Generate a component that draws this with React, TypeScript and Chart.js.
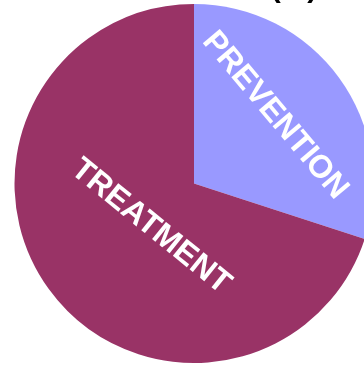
import React, { useEffect, useRef } from "react";
import { Chart, registerables } from "chart.js";

Chart.register(...registerables);

const categories = ["PREVENTION", "TREATMENT"];
const shares = [30, 70];
const sliceColors = ["#9999FF", "#993366"];
const titleText = "(%)";

const labelPlacement = [
  { angleOffset: -4, radiusFrac: 0.59, rotationDeg: 50 },
  { angleOffset: -9, radiusFrac: 0.34, rotationDeg: 39 },
];

const labelPlugin = {
  id: "sliceLabels",
  afterDatasetsDraw(chart: any) {
    const meta = chart.getDatasetMeta(0);
    const ctx = chart.ctx;
    ctx.save();
    ctx.fillStyle = "#FFFFFF";
    ctx.font = "bold 32px 'Liberation Sans', Arial, sans-serif";
    ctx.textAlign = "center";
    ctx.textBaseline = "middle";
    meta.data.forEach((arc: any, i: number) => {
      const p = labelPlacement[i];
      const mid = (arc.startAngle + arc.endAngle) / 2 + (p.angleOffset * Math.PI) / 180;
      const r = arc.outerRadius * p.radiusFrac;
      const x = arc.x + Math.cos(mid) * r;
      const y = arc.y + Math.sin(mid) * r;
      ctx.save();
      ctx.translate(x, y);
      ctx.rotate((p.rotationDeg * Math.PI) / 180);
      ctx.fillText(chart.data.labels[i], 0, 0);
      ctx.restore();
    });
    ctx.restore();
  },
};

const titlePlugin = {
  id: "cutTitle",
  afterDraw(chart: any) {
    const ctx = chart.ctx;
    ctx.save();
    ctx.fillStyle = "#000000";
    ctx.font = "bold 30px 'Liberation Sans', Arial, sans-serif";
    ctx.textAlign = "center";
    ctx.textBaseline = "alphabetic";
    ctx.fillText(titleText, 294, -3);
    ctx.restore();
  },
};

export default function App() {
  const ref = useRef<HTMLCanvasElement | null>(null);
  useEffect(() => {
    document.body.style.margin = "0";
    document.body.style.overflow = "hidden";
    const chart = new Chart(ref.current!, {
      type: "pie",
      data: {
        labels: categories,
        datasets: [
          {
            data: shares,
            backgroundColor: sliceColors,
            borderWidth: 0,
          },
        ],
      },
      options: {
        animation: false,
        responsive: false,
        maintainAspectRatio: false,
        layout: { padding: { left: 14, right: 14, top: 4, bottom: 2 } },
        plugins: {
          legend: { display: false },
          tooltip: { enabled: false },
          title: { display: false },
        },
      },
      plugins: [labelPlugin, titlePlugin],
    });
    return () => chart.destroy();
  }, []);
  return (
    <div style={{ position: "fixed", left: 0, top: 0, width: 364, height: 365, overflow: "hidden", background: "#FFFFFF" }}>
      <canvas ref={ref} width={388} height={365} style={{ display: "block", width: 388, height: 365 }} />
    </div>
  );
}
